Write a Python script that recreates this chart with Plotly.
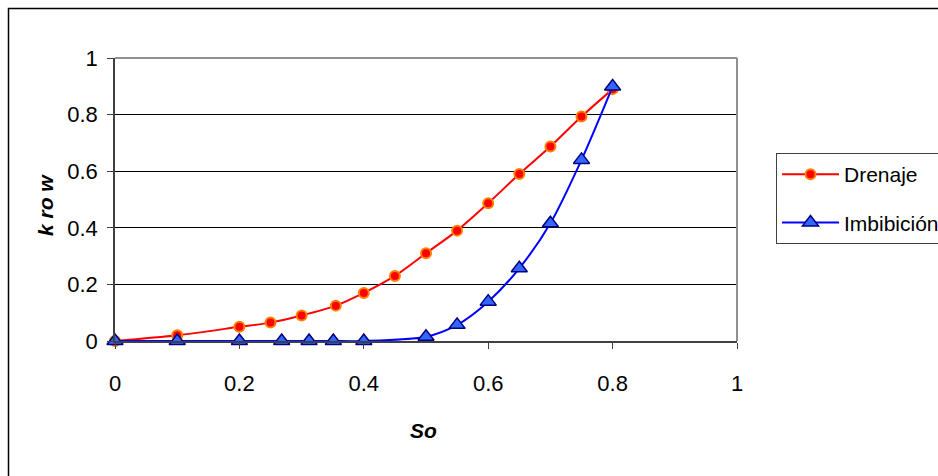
import plotly.graph_objects as go

so_dren = [0.0, 0.1, 0.2, 0.25, 0.3, 0.355, 0.4, 0.45, 0.5, 0.55, 0.6, 0.65, 0.7, 0.75, 0.8]
kr_dren = [0.0, 0.02, 0.05, 0.065, 0.09, 0.125, 0.17, 0.23, 0.31, 0.39, 0.487, 0.59, 0.687, 0.793, 0.89]

so_imb = [0.0, 0.1, 0.2, 0.268, 0.312, 0.351, 0.4, 0.5, 0.55, 0.6, 0.65, 0.7, 0.75, 0.8]
kr_imb = [0.0, 0.0, 0.0, 0.0, 0.0, 0.0, 0.0, 0.015, 0.057, 0.139, 0.257, 0.416, 0.64, 0.899]

tick_vals = [0, 0.2, 0.4, 0.6, 0.8, 1]
tick_text = ["0", "0.2", "0.4", "0.6", "0.8", "1"]

FONT = "Liberation Sans, Arial, sans-serif"
FS = 21
TFS = 22

fig = go.Figure()
fig.add_trace(go.Scatter(
    x=so_dren, y=kr_dren, name="Drenaje", mode="lines+markers", legendgroup="a",
    line=dict(color="#FF0000", width=2, shape="spline", smoothing=0.8),
    marker=dict(symbol="circle", size=10, color="#FF0000",
                line=dict(color="#FF8000", width=2)),
    cliponaxis=False,
))
fig.add_trace(go.Scatter(
    x=so_imb, y=kr_imb, name="Imbibición", mode="lines+markers", legendgroup="b",
    line=dict(color="#0000FF", width=2, shape="spline", smoothing=0.8),
    marker=dict(symbol="triangle-up", size=14, color="#3366FF",
                line=dict(color="#000080", width=1.5)),
    cliponaxis=False,
))

L, R, T, B = 115, 201, 58, 135
W, H = 938, 476
pw, ph = W - L - R, H - T - B

def px_x(p):
    return (p - L) / pw

def px_y(p):
    return (H - B - p) / ph

fig.update_layout(
    width=W, height=H,
    margin=dict(l=L, r=R, t=T, b=B, autoexpand=False),
    paper_bgcolor="white", plot_bgcolor="white",
    font=dict(family=FONT, size=FS, color="black"),
    showlegend=True,
    legend=dict(
        x=px_x(776), y=px_y(153), xanchor="left", yanchor="top",
        bordercolor="#404040", borderwidth=1, bgcolor="white",
        font=dict(family=FONT, size=FS, color="black"),
        traceorder="grouped", tracegroupgap=18, itemwidth=57,
    ),
    xaxis=dict(
        range=[0, 1], tickvals=tick_vals, ticktext=tick_text,
        showgrid=False, zeroline=False,
        showline=True, linecolor="#404040", linewidth=1.5,
        ticks="outside", ticklen=6, tickcolor="#404040", tickwidth=1,
        ticklabelstandoff=16,
        tickfont=dict(family=FONT, size=TFS),
    ),
    yaxis=dict(
        range=[0, 1], tickvals=tick_vals, ticktext=tick_text,
        showgrid=True, gridcolor="black", gridwidth=1,
        zeroline=False,
        showline=True, linecolor="#404040", linewidth=1.5,
        ticks="outside", ticklen=6, tickcolor="#404040", tickwidth=1,
        ticklabelstandoff=5,
        tickfont=dict(family=FONT, size=TFS),
    ),
    shapes=[
        dict(type="line", xref="paper", yref="paper", x0=0, x1=1, y0=1, y1=1,
             line=dict(color="#909090", width=2)),
        dict(type="line", xref="paper", yref="paper", x0=1, x1=1, y0=0, y1=1,
             line=dict(color="#909090", width=2)),
        dict(type="rect", xref="paper", yref="paper",
             x0=px_x(8.5), x1=px_x(945), y0=px_y(490), y1=px_y(8.5),
             line=dict(color="black", width=1.5), layer="below"),
    ],
    annotations=[
        dict(text="<b><i>So</i></b>", xref="paper", yref="paper",
             x=px_x(423), y=px_y(430), xanchor="center", yanchor="middle",
             showarrow=False, font=dict(family=FONT, size=21)),
        dict(text="<b><i>k ro w</i></b>", xref="paper", yref="paper",
             x=px_x(45), y=px_y(205), xanchor="center", yanchor="middle",
             showarrow=False, textangle=-90,
             font=dict(family=FONT, size=21)),
    ],
)

fig.write_html("out.html")
